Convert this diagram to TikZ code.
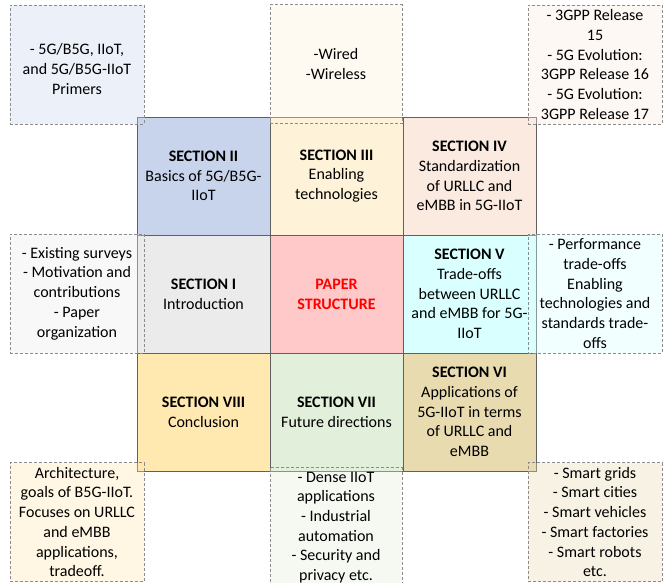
\documentclass[tikz,border=0pt]{standalone}
\usepackage{fontspec}
\setmainfont{Carlito}
\definecolor{boxline}{HTML}{606060}
\definecolor{dashline}{HTML}{8C8C8C}
% section colours
\definecolor{secone}{HTML}{EBEBEB}
\definecolor{sectwo}{HTML}{C8D4EB}
\definecolor{secthree}{HTML}{FEF2D8}
\definecolor{secfour}{HTML}{FBEAE0}
\definecolor{secfive}{HTML}{D9FFFF}
\definecolor{secsix}{HTML}{E9DBB0}
\definecolor{secseven}{HTML}{E2EFDA}
\definecolor{seceight}{HTML}{FFE9B0}
\definecolor{paper}{HTML}{FFC9C9}
\begin{document}
\begin{tikzpicture}
        [
            x=0.75pt, y=-0.75pt,
            every node/.style={font=\fontsize{12}{14.8}\selectfont, align=center, inner sep=0pt},
            secbox/.style={rectangle, draw=boxline, line width=0.75pt, minimum width=99.75pt, minimum height=88.5pt},
            sidebox/.style={rectangle, draw=dashline, line width=0.75pt, dash pattern=on 2.25pt off 1.5pt,
                fill opacity=0.35, text opacity=1, minimum width=100.5pt, minimum height=89.25pt}
        ]
        \useasboundingbox (0,0) rectangle (667,582);
        % sections
        \node (s2) [secbox, fill=sectwo] at (203.5,176) {\textbf{SECTION II}\\Basics of 5G/B5G-\\IIoT};
        \node (s3) [secbox, fill=secthree] at (336.5,176) {\textbf{SECTION III}\\Enabling\\technologies};
        \node (s4) [secbox, fill=secfour] at (469.5,176) {\textbf{SECTION IV}\\Standardization\\of URLLC and\\eMBB in 5G-IIoT};
        \node (s1) [secbox, fill=secone] at (203.5,294) {\textbf{SECTION I}\\Introduction};
        \node (ps) [secbox, fill=paper, text=red] at (336.5,294) {\textbf{PAPER}\\\textbf{STRUCTURE}};
        \node (s5) [secbox, fill=secfive] at (469.5,294) {\textbf{SECTION V}\\Trade-offs\\between URLLC\\and eMBB for 5G-\\IIoT};
        \node (s8) [secbox, fill=seceight] at (203.5,412) {\textbf{SECTION VIII}\\Conclusion};
        \node (s7) [secbox, fill=secseven] at (336.5,412) {\textbf{SECTION VII}\\Future directions};
        \node (s6) [secbox, fill=secsix] at (469.5,412) {\textbf{SECTION VI}\\Applications of\\5G-IIoT in terms\\of URLLC and\\eMBB};
        % side notes
        \node (tl) [sidebox, fill=sectwo] at (77,64.5) {\mbox{}\\- 5G/B5G, IIoT,\\and 5G/B5G-IIoT\\Primers};
        \node (tm) [sidebox, fill=secthree, minimum width=99pt] at (336,64) {-Wired\\-Wireless};
        \node (tr) [sidebox, fill=secfour] at (595,64.5) {- 3GPP Release\\15\\- 5G Evolution:\\3GPP Release 16\\- 5G Evolution:\\3GPP Release 17};
        \node (ml) [sidebox, fill=secone] at (77,293.5) {- Existing surveys\\- Motivation and\\contributions\\- Paper\\organization};
        \node (mr) [sidebox, fill=secfive] at (595,293.5) {- Performance\\trade-offs\\Enabling\\technologies and\\standards trade-\\offs};
        \node (bl) [sidebox, fill=seceight] at (77,522) {Architecture,\\goals of B5G-IIoT.\\Focuses on URLLC\\and eMBB\\applications,\\tradeoff.};
        \node (bm) [sidebox, fill=secseven, minimum width=99pt, minimum height=90pt] at (336,527.5) {- Dense IIoT\\applications\\- Industrial\\automation\\- Security and\\privacy etc.};
        \node (br) [sidebox, fill=secsix] at (595,522) {- Smart grids\\- Smart cities\\- Smart vehicles\\- Smart factories\\- Smart robots\\etc.};
    \end{tikzpicture}
\end{document}
